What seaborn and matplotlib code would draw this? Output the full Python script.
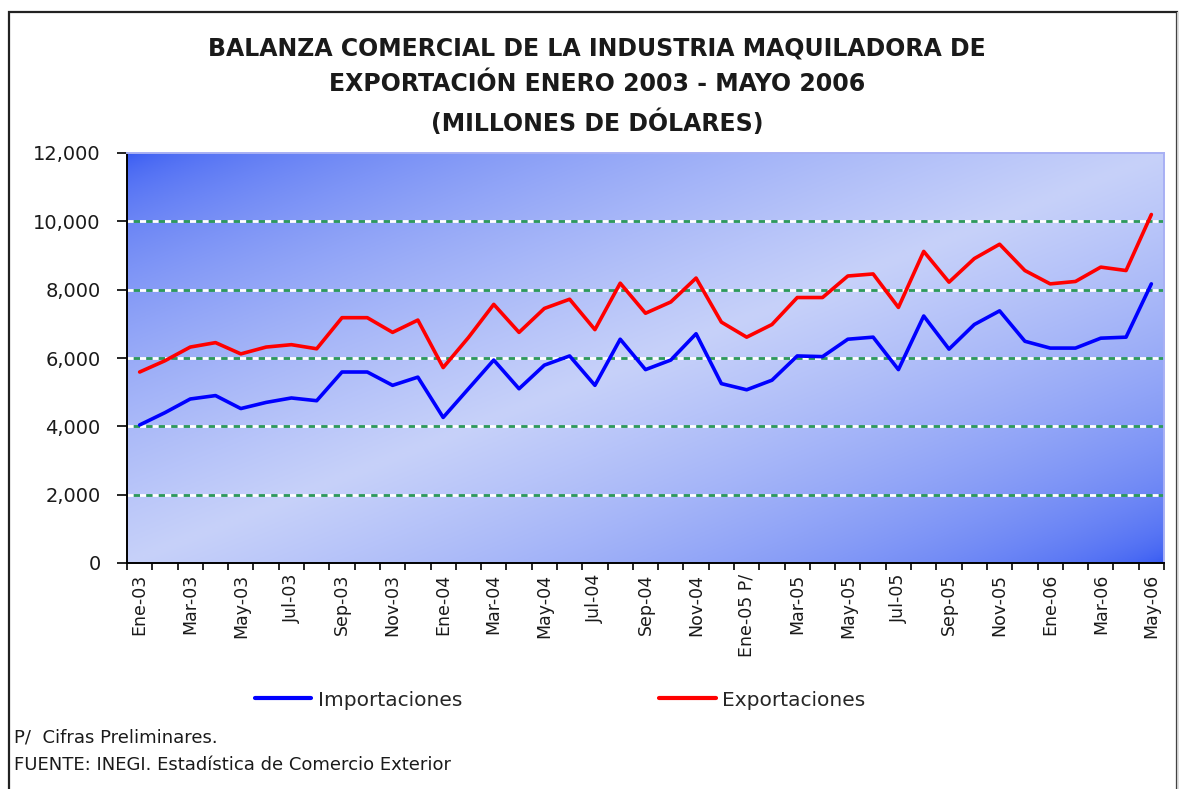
import numpy as np
import pandas as pd
import matplotlib
matplotlib.use('Agg')
import matplotlib.pyplot as plt
import seaborn as sns
from matplotlib.patches import Rectangle
from matplotlib.lines import Line2D

# datos (millones de dolares), ene-2003 a may-2006
meses = ['Ene-03', 'Feb-03', 'Mar-03', 'Abr-03', 'May-03', 'Jun-03', 'Jul-03', 'Ago-03',
         'Sep-03', 'Oct-03', 'Nov-03', 'Dic-03',
         'Ene-04', 'Feb-04', 'Mar-04', 'Abr-04', 'May-04', 'Jun-04', 'Jul-04', 'Ago-04',
         'Sep-04', 'Oct-04', 'Nov-04', 'Dic-04',
         'Ene-05 P/', 'Feb-05', 'Mar-05', 'Abr-05', 'May-05', 'Jun-05', 'Jul-05', 'Ago-05',
         'Sep-05', 'Oct-05', 'Nov-05', 'Dic-05',
         'Ene-06', 'Feb-06', 'Mar-06', 'Abr-06', 'May-06']
importaciones = [4040, 4400, 4800, 4900, 4520, 4700, 4830, 4750, 5590, 5590, 5200, 5440,
                 4260, 5100, 5940, 5100, 5790, 6060, 5200, 6550, 5660, 5940, 6710, 5250,
                 5070, 5350, 6060, 6040, 6550, 6610, 5660, 7230, 6260, 6980, 7380, 6490,
                 6290, 6290, 6580, 6610, 8170]
exportaciones = [5590, 5920, 6320, 6450, 6120, 6320, 6390, 6270, 7180, 7180, 6750, 7110,
                 5720, 6600, 7570, 6750, 7450, 7720, 6830, 8190, 7310, 7640, 8340, 7050,
                 6610, 6980, 7770, 7770, 8400, 8460, 7480, 9120, 8220, 8910, 9330, 8560,
                 8170, 8240, 8660, 8560, 10200]
yticks = [0, 2000, 4000, 6000, 8000, 10000, 12000]

titulo = ('BALANZA COMERCIAL DE LA INDUSTRIA MAQUILADORA DE\n'
          'EXPORTACIÓN ENERO 2003 - MAYO 2006\n'
          '(MILLONES DE DÓLARES)')

df = pd.DataFrame({
    'mes': list(range(len(meses))) * 2,
    'valor': importaciones + exportaciones,
    'serie': ['Importaciones'] * len(meses) + ['Exportaciones'] * len(meses),
})

sns.set_theme(style='white')
plt.rcParams['font.family'] = ['DejaVu Sans']
plt.rcParams['lines.scale_dashes'] = False

W, H = 1184, 789
fig = plt.figure(figsize=(W / 100, H / 100), dpi=100)
fig.patch.set_facecolor('white')

# marco exterior del grafico
fig.add_artist(Rectangle((9 / W, -0.02), (1177 - 9) / W, 1.02 - 12 / H, transform=fig.transFigure,
                         fill=False, edgecolor='#222222', linewidth=1.6))
fig.add_artist(Line2D([1177 / W, 1177 / W], [0, 1 - 12 / H], transform=fig.transFigure,
                      color='#cccccc', linewidth=1.0))

ax = fig.add_axes([127 / W, 1 - 563 / H, (1164 - 127) / W, (563 - 153) / H])

# fondo degradado diagonal (oscuro en esquinas sup-izq e inf-der)
xs = np.linspace(0, 1, 400)
ys = np.linspace(0, 1, 200)
X, Y = np.meshgrid(xs, ys)
t = 1 - np.abs(X + Y - 1)
t = t ** 0.55
dark = np.array([0.20, 0.34, 0.95])
light = np.array([0.78, 0.82, 0.98])
img = dark + (light - dark) * t[..., None]
ax.imshow(img, extent=(0, 1, 0, 1), transform=ax.transAxes, aspect='auto',
          origin='upper', zorder=0)

# lineas de rejilla verde/blanco
for v in yticks[1:-1]:
    ax.axhline(v, color='white', linewidth=2.0, linestyle=(0, (4.5, 4.5)), zorder=1)
    ax.axhline(v, color='#2e9a5a', linewidth=2.0, linestyle=(4.5, (4.5, 4.5)), zorder=1)

sns.lineplot(data=df, x='mes', y='valor', hue='serie',
             palette={'Importaciones': '#0000ff', 'Exportaciones': '#ff0000'},
             linewidth=2.6, ax=ax, zorder=3)

handles, labels = ax.get_legend_handles_labels()
ax.get_legend().remove()

ax.set_xlim(-0.5, len(meses) - 0.5)
ax.set_ylim(yticks[0], yticks[-1])
ax.set_xlabel('')
ax.set_ylabel('')

ax.set_yticks(yticks)
ax.set_yticklabels([f'{v:,}' for v in yticks], fontsize=14, color='#1a1a1a')
ax.tick_params(axis='y', length=7, width=1.2, direction='out', pad=12, color='black', left=True)

ax.set_xticks(np.arange(-0.5, len(meses), 1))
ax.set_xticklabels([])
ax.tick_params(axis='x', which='major', length=5, width=1.2, direction='out', color='black', bottom=True)
ax.set_xticks(range(0, len(meses), 2), minor=True)
ax.set_xticklabels(meses[::2], minor=True, rotation=90, fontsize=12.5, color='#1a1a1a')
ax.tick_params(axis='x', which='minor', length=0, pad=8)

for s in ['left', 'bottom']:
    ax.spines[s].set_color('black')
    ax.spines[s].set_linewidth(1.4)
for s in ['top', 'right']:
    ax.spines[s].set_color('#a8b0f4')
    ax.spines[s].set_linewidth(1.4)

fig.text(597 / W, 1 - 86 / H, titulo, ha='center', va='center', fontsize=17,
         fontweight='semibold', linespacing=1.62, color='#1a1a1a')

fig.legend(handles, labels, loc='center', bbox_to_anchor=(560 / W, 1 - 700 / H),
           ncol=2, frameon=False, fontsize=14.5, handlelength=2.8, handletextpad=0.3,
           columnspacing=9.8)
for h in fig.legends[0].get_lines():
    h.set_linewidth(3)

fig.text(14 / W, 1 - 737 / H, 'P/  Cifras Preliminares.', fontsize=13, va='center', color='#1a1a1a')
fig.text(14 / W, 1 - 765 / H, 'FUENTE: INEGI. Estadística de Comercio Exterior', fontsize=13,
         va='center', color='#1a1a1a')

plt.savefig('out.png', dpi=100)
